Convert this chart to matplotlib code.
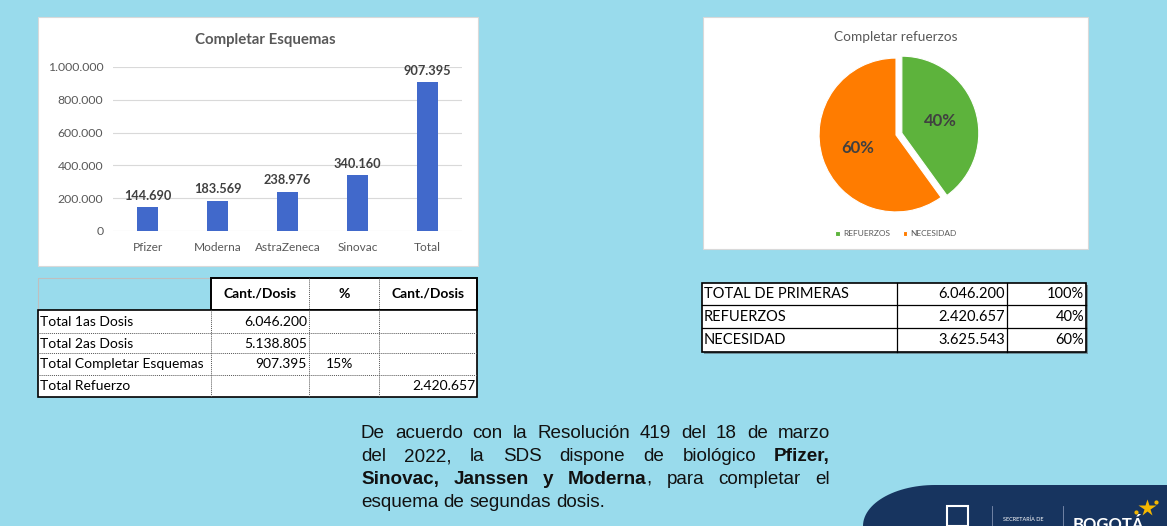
import matplotlib.pyplot as plt
from matplotlib.patches import Rectangle, Polygon
from matplotlib.ticker import FuncFormatter
import numpy as np

plt.rcParams['font.family'] = ['Lato', 'DejaVu Sans']

W, H = 1167, 526

# datos de la diapositiva
vacunas = ['Pfizer', 'Moderna', 'AstraZeneca', 'Sinovac', 'Total']
dosis_completar = [144690, 183569, 238976, 340160, 907395]

refuerzo_labels = ['REFUERZOS', 'NECESIDAD']
refuerzo_valores = [2420657, 3625543]

tabla1_header = ['', 'Cant./Dosis', '%', 'Cant./Dosis']
tabla1_rows = [
    ['Total 1as Dosis', '6.046.200', '', ''],
    ['Total 2as Dosis', '5.138.805', '', ''],
    ['Total Completar Esquemas', '907.395', '15%', ''],
    ['Total Refuerzo', '', '', '2.420.657'],
]

tabla2_rows = [
    ['TOTAL DE PRIMERAS', '6.046.200', '100%'],
    ['REFUERZOS', '2.420.657', '40%'],
    ['NECESIDAD', '3.625.543', '60%'],
]

# texto con *negrita*
parrafo = [
    'De acuerdo con la Resolución 419 del 18 de marzo',
    'del 2022, la SDS dispone de biológico *Pfizer,*',
    '*Sinovac, Janssen y Moderna*, para completar el',
    'esquema de segundas dosis.',
]

BG = '#99DBEC'
GRIS = '#595959'
FAM_P = ['Liberation Sans', 'DejaVu Sans']
FS_P = 13.6


def fig_box(x0, y0, x1, y1):
    # caja en pixeles (y desde arriba) -> coords de figura
    return [x0 / W, 1 - y1 / H, (x1 - x0) / W, (y1 - y0) / H]


def miles(v, pos=None):
    return f'{v:,.0f}'.replace(',', '.')


fig = plt.figure(figsize=(W / 100, H / 100), dpi=100)
fig.patch.set_facecolor(BG)

# eje de fondo en pixeles
ax_bg = fig.add_axes([0, 0, 1, 1], zorder=0)
ax_bg.set_xlim(0, W)
ax_bg.set_ylim(H, 0)
ax_bg.axis('off')

# paneles blancos
ax_bg.add_patch(Rectangle((38, 17), 440, 249, facecolor='white', edgecolor='#D9D9D9', lw=0.8))
ax_bg.add_patch(Rectangle((703, 17), 385, 232, facecolor='white', edgecolor='#D9D9D9', lw=0.8))

# ---- grafico de barras
ax_bg.text(265, 40, 'Completar Esquemas', ha='center', va='center', fontsize=10.8,
           fontweight='bold', color=GRIS)
ax1 = fig.add_axes(fig_box(113, 67, 462, 231), zorder=2)
ax1.set_facecolor('none')
x = np.arange(len(vacunas))
bars = ax1.bar(x, dosis_completar, width=0.3, color='#4169CB', zorder=3)
ax1.set_xlim(-0.5, 4.5)
ax1.set_ylim(0, 1000000)
ax1.set_yticks(np.arange(0, 1000001, 200000))
ax1.yaxis.set_major_formatter(FuncFormatter(miles))
ax1.set_xticks(x)
ax1.set_xticklabels(vacunas)
ax1.grid(axis='y', color='#D9D9D9', lw=0.8, zorder=0)
for s in ax1.spines.values():
    s.set_visible(False)
ax1.tick_params(length=0, labelcolor=GRIS)
ax1.tick_params(axis='y', pad=7, labelsize=8.8)
ax1.tick_params(axis='x', pad=8, labelsize=8.6)
for b, v in zip(bars, dosis_completar):
    ax1.annotate(miles(v), (b.get_x() + b.get_width() / 2, v), xytext=(0, 4),
                 textcoords='offset points', ha='center', va='bottom',
                 fontsize=9.2, fontweight='bold', color='#404040')

# ---- grafico de torta
ax_bg.text(896, 37, 'Completar refuerzos', ha='center', va='center', fontsize=9.8, color=GRIS)
ax2 = fig.add_axes(fig_box(796, 35, 996, 235), zorder=2)
wedges, _, autotexts = ax2.pie(refuerzo_valores, colors=['#5DB33C', '#FF7C00'],
                               explode=[0.08, 0], startangle=90, counterclock=False,
                               autopct='%.0f%%', pctdistance=0.53,
                               wedgeprops=dict(edgecolor='white', lw=0.8),
                               textprops=dict(fontsize=12, fontweight='bold', color='#404040'))
ax2.set_xlim(-1.3, 1.3)
ax2.set_ylim(-1.3, 1.3)
ax2.set_aspect('equal')
fig.legend(wedges, refuerzo_labels, loc='center', bbox_to_anchor=(896 / W, 1 - 234 / H),
           ncol=2, frameon=False, fontsize=6, handlelength=0.55, handleheight=0.55,
           handletextpad=0.4, columnspacing=1.5, labelcolor=GRIS)

# ---- tabla 1
c1 = [38, 211, 309, 379, 477]
r1 = [278, 310, 333, 353, 375, 397]
ax_bg.add_patch(Rectangle((c1[0], r1[0]), c1[1] - c1[0], r1[1] - r1[0], facecolor='none',
                          edgecolor='#BFBFBF', lw=0.8))
ax_bg.add_patch(Rectangle((c1[1], r1[0]), c1[4] - c1[1], r1[1] - r1[0], facecolor='white',
                          edgecolor='black', lw=1.4))
for j in (2, 3):
    ax_bg.plot([c1[j], c1[j]], [r1[0], r1[1]], color='#555555', lw=0.7, ls=(0, (1, 1)))
for j in range(1, 4):
    ax_bg.text((c1[j] + c1[j + 1]) / 2, (r1[0] + r1[1]) / 2, tabla1_header[j], ha='center',
               va='center', fontsize=10, fontweight='bold', color='black')
ax_bg.add_patch(Rectangle((c1[0], r1[1]), c1[4] - c1[0], r1[-1] - r1[1], facecolor='white',
                          edgecolor='black', lw=1.2, zorder=3))
for j in (1, 2, 3):
    ax_bg.plot([c1[j], c1[j]], [r1[1], r1[-1]], color='#555555', lw=0.7, ls=(0, (1, 1)), zorder=4)
for i in (2, 3, 4):
    ax_bg.plot([c1[0], c1[4]], [r1[i], r1[i]], color='#555555', lw=0.7, ls=(0, (1, 1)), zorder=4)
for i, fila in enumerate(tabla1_rows):
    yc = (r1[i + 1] + r1[i + 2]) / 2 + 0.5
    ax_bg.text(c1[0] + 2, yc, fila[0], ha='left', va='center', fontsize=10, zorder=5)
    ax_bg.text(c1[2] - 2, yc, fila[1], ha='right', va='center', fontsize=10, zorder=5)
    ax_bg.text(c1[2] + 31, yc, fila[2], ha='center', va='center', fontsize=10, zorder=5)
    ax_bg.text(c1[4] - 2, yc, fila[3], ha='right', va='center', fontsize=10, zorder=5)

# ---- tabla 2
c2 = [702, 897, 1007, 1086]
r2 = [283, 305, 328, 352]
ax_bg.add_patch(Rectangle((c2[0] + 2, r2[0] + 2), c2[3] - c2[0], r2[3] - r2[0],
                          facecolor='#6E8F99', edgecolor='none'))
ax_bg.add_patch(Rectangle((c2[0], r2[0]), c2[3] - c2[0], r2[3] - r2[0], facecolor='white',
                          edgecolor='black', lw=1.2))
for j in (1, 2):
    ax_bg.plot([c2[j], c2[j]], [r2[0], r2[3]], color='black', lw=0.9)
for i in (1, 2):
    ax_bg.plot([c2[0], c2[3]], [r2[i], r2[i]], color='black', lw=0.9)
for i, fila in enumerate(tabla2_rows):
    yc = (r2[i] + r2[i + 1]) / 2 + 0.5
    ax_bg.text(c2[0] + 2, yc, fila[0], ha='left', va='center', fontsize=10.5)
    ax_bg.text(c2[2] - 2, yc, fila[1], ha='right', va='center', fontsize=10.5)
    ax_bg.text(c2[3] - 2, yc, fila[2], ha='right', va='center', fontsize=10.5)

# ---- parrafo justificado
renderer = fig.canvas.get_renderer()
x_izq, x_der = 361, 830
bases = [438, 461, 484, 507]
negrita = False
for n, linea in enumerate(parrafo):
    palabras = []
    for w in linea.split(' '):
        segs = []
        for k, p in enumerate(w.split('*')):
            if k > 0:
                negrita = not negrita
            if p:
                segs.append((p, negrita))
        palabras.append(segs)
    objs = []
    anchos = []
    for segs in palabras:
        ts = []
        total = 0
        for txt, b in segs:
            t = ax_bg.text(0, bases[n], txt, fontsize=FS_P, va='baseline', ha='left',
                           family=FAM_P, fontweight='bold' if b else 'normal', color='#111111')
            wpx = t.get_window_extent(renderer).width
            ts.append((t, wpx))
            total += wpx
        objs.append(ts)
        anchos.append(total)
    if n < len(parrafo) - 1:
        hueco = (x_der - x_izq - sum(anchos)) / (len(anchos) - 1)
    else:
        hueco = FS_P * 100 / 72 * 0.278
    xp = x_izq
    for ts, a in zip(objs, anchos):
        xs = xp
        for t, wpx in ts:
            t.set_x(xs)
            xs += wpx
        xp += a + hueco

# ---- logo inferior
th = np.linspace(np.pi, np.pi / 2, 30)
arco = np.column_stack([935 + 72 * np.cos(th), 526 - 41 * np.sin(th)])
forma = np.vstack([arco, [[W, 485], [W, 526]]])
ax_bg.add_patch(Polygon(forma, closed=True, facecolor='#17345F', edgecolor='none'))
ax_bg.add_patch(Rectangle((947, 506), 21, 20, facecolor='none', edgecolor='white', lw=1.5))
ax_bg.plot([992, 992], [506, 526], color='#8090B0', lw=0.6)
ax_bg.plot([1063, 1063], [506, 526], color='#8090B0', lw=0.6)
ax_bg.text(1003, 519, 'SECRETARÍA DE', fontsize=4, color='white', va='center', ha='left')
ax_bg.text(1073, 517, 'BOGOTÁ', fontsize=12, fontweight='bold', color='white', va='top',
           ha='left', clip_on=True)
ax_bg.plot([1147], [508], marker='*', ms=13, color='#F5B800', mec='none')
ax_bg.plot([1136, 1156], [512, 502], ls='none', marker='o', ms=2, color='#F5B800')

fig.savefig('out.png', dpi=100, facecolor=BG)
